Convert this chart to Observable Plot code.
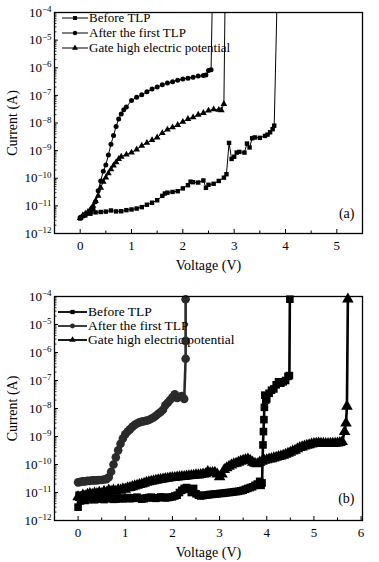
<!DOCTYPE html>
<html><head><meta charset="utf-8">
<script src="https://cdn.jsdelivr.net/npm/d3@7"></script>
<script src="https://cdn.jsdelivr.net/npm/@observablehq/plot@0.6"></script>
<style>
html,body{margin:0;padding:0;background:#fff;}
#wrap{position:relative;width:379px;height:562px;font-family:"Liberation Serif","Times New Roman",serif;color:#000;}
.panel{position:relative;width:379px;height:281px;}
.panel > svg{display:block;}
.legend{position:absolute;white-space:nowrap;}
.legend .row{display:flex;align-items:center;}
.legend svg{display:block;margin-right:1px;}
</style>
</head><body>
<div id="wrap"><div class="panel" id="pa"></div><div class="panel" id="pb"></div></div>
<script>
// ---------- data (voltage V, current A) ----------
const seriesNames = ["Before TLP", "After the first TLP", "Gate high electric potential"];
const panelTags = ["(a)", "(b)"];
const xLabel = "Voltage (V)";
const yLabel = "Current (A)";
const yDecades = [1e-12, 1e-11, 1e-10, 1e-9, 1e-8, 1e-7, 1e-6, 1e-5, 1e-4];
const xTicksA = [0, 1, 2, 3, 4, 5];
const xTicksB = [0, 1, 2, 3, 4, 5, 6];

const aBefore = [[0,3.5e-12],[0.1,4.5e-12],[0.2,5.2e-12],[0.3,5.8e-12],[0.4,6.0e-12],[0.5,6.2e-12],[0.6,6.8e-12],[0.7,6.3e-12],[0.8,6.4e-12],[0.9,7.0e-12],[1.0,7.4e-12],[1.1,8.0e-12],[1.2,9.0e-12],[1.3,1.1e-11],[1.4,1.3e-11],[1.5,1.6e-11],[1.6,2.3e-11],[1.65,2.8e-11],[1.7,3.0e-11],[1.8,3.2e-11],[1.9,3.4e-11],[2.0,4.3e-11],[2.1,5.6e-11],[2.15,7.5e-11],[2.2,7.2e-11],[2.3,7.0e-11],[2.4,8.3e-11],[2.45,4.5e-11],[2.5,5.8e-11],[2.6,6.3e-11],[2.7,8.0e-11],[2.8,1.05e-10],[2.85,1.4e-10],[2.9,1.9e-9],[2.95,5.0e-10],[3.0,6.0e-10],[3.05,8.5e-10],[3.1,9.0e-10],[3.2,8.5e-10],[3.25,1.8e-9],[3.3,1.3e-9],[3.35,2.8e-9],[3.4,3.0e-9],[3.5,2.9e-9],[3.6,3.4e-9],[3.65,3.8e-9],[3.7,4.6e-9],[3.75,6.0e-9],[3.78,8.0e-9],[3.83,1e-4]];
const aAfter = [[0,3.8e-12],[0.05,4.2e-12],[0.1,5.0e-12],[0.15,5.5e-12],[0.2,6.0e-12],[0.25,7.5e-12],[0.3,1.4e-11],[0.35,3.5e-11],[0.4,8.0e-11],[0.45,1.8e-10],[0.5,3.0e-10],[0.55,7.0e-10],[0.6,1.7e-9],[0.65,3.5e-9],[0.7,7.5e-9],[0.75,1.4e-8],[0.8,2.1e-8],[0.85,3.0e-8],[0.9,3.8e-8],[1.0,6.5e-8],[1.1,8.5e-8],[1.2,1.05e-7],[1.3,1.35e-7],[1.4,1.7e-7],[1.5,2.0e-7],[1.6,2.4e-7],[1.7,2.8e-7],[1.8,3.1e-7],[1.9,3.5e-7],[2.0,3.9e-7],[2.1,4.2e-7],[2.2,4.5e-7],[2.3,5.0e-7],[2.4,5.2e-7],[2.45,5.5e-7],[2.5,8.0e-7],[2.55,8.5e-7],[2.57,1e-4]];
const aGate = [[0,3.6e-12],[0.05,4.5e-12],[0.1,5.2e-12],[0.15,6.0e-12],[0.2,7.5e-12],[0.25,1.0e-11],[0.3,1.5e-11],[0.35,2.3e-11],[0.4,4.5e-11],[0.45,7.5e-11],[0.5,1.05e-10],[0.55,1.5e-10],[0.6,2.1e-10],[0.65,2.9e-10],[0.7,3.8e-10],[0.75,5.0e-10],[0.8,6.0e-10],[0.9,7.2e-10],[1.0,8.5e-10],[1.1,1.1e-9],[1.2,1.5e-9],[1.3,1.9e-9],[1.4,2.4e-9],[1.5,3.0e-9],[1.6,4.3e-9],[1.7,5.8e-9],[1.8,7.0e-9],[1.9,8.5e-9],[2.0,1.1e-8],[2.1,1.4e-8],[2.2,1.6e-8],[2.3,2.0e-8],[2.4,2.3e-8],[2.5,2.8e-8],[2.6,3.1e-8],[2.7,3.0e-8],[2.75,2.9e-8],[2.8,4.9e-8],[2.82,1e-4]];

const bBefore = [[0,3e-12],[0.02,8e-12],[0.05,5e-12],[0.1,6e-12],[0.15,5.2e-12],[0.2,5.5e-12],[0.25,6.2e-12],[0.3,6e-12],[0.35,5.5e-12],[0.4,5.8e-12],[0.45,6.3e-12],[0.5,6e-12],[0.55,5.6e-12],[0.6,6.2e-12],[0.65,6.5e-12],[0.7,6e-12],[0.75,5.7e-12],[0.8,5.8e-12],[0.85,6.3e-12],[0.9,6.2e-12],[0.95,5.9e-12],[1.0,6.3e-12],[1.05,6.6e-12],[1.1,6e-12],[1.15,6.2e-12],[1.2,6.5e-12],[1.25,6.8e-12],[1.3,6.2e-12],[1.35,5.8e-12],[1.4,6e-12],[1.45,6.4e-12],[1.5,6.6e-12],[1.55,6.8e-12],[1.6,6.4e-12],[1.65,6.2e-12],[1.7,6.5e-12],[1.75,6.9e-12],[1.8,6.8e-12],[1.85,6.4e-12],[1.9,6.6e-12],[1.95,6.8e-12],[2.0,7e-12],[2.05,7.5e-12],[2.1,8e-12],[2.15,1.0e-11],[2.2,1.2e-11],[2.25,1.4e-11],[2.3,1.5e-11],[2.35,1.3e-11],[2.4,1.0e-11],[2.45,1.4e-11],[2.5,9e-12],[2.55,8e-12],[2.6,7.5e-12],[2.65,7.8e-12],[2.7,8e-12],[2.75,8.2e-12],[2.8,8.5e-12],[2.85,8.6e-12],[2.9,8.8e-12],[2.95,9e-12],[3.0,9.2e-12],[3.05,9.3e-12],[3.1,9.5e-12],[3.15,9.8e-12],[3.2,1.0e-11],[3.25,1.02e-11],[3.3,1.05e-11],[3.35,1.08e-11],[3.4,1.1e-11],[3.45,1.15e-11],[3.5,1.2e-11],[3.55,1.3e-11],[3.6,1.4e-11],[3.65,1.5e-11],[3.7,1.6e-11],[3.75,1.8e-11],[3.8,2.0e-11],[3.85,2.5e-11],[3.88,1.8e-11],[3.9,2.2e-11],[3.92,5e-10],[3.93,1.5e-9],[3.94,4e-9],[3.95,1.1e-8],[3.96,3e-8],[3.98,2e-8],[4.0,2.2e-8],[4.05,3.5e-8],[4.1,4.5e-8],[4.15,5e-8],[4.2,7e-8],[4.25,9e-8],[4.3,8e-8],[4.35,9e-8],[4.4,1e-7],[4.45,1.4e-7],[4.48,1.5e-7],[4.49,8e-5]];
const bAfter = [[0,2.3e-11],[0.05,2.4e-11],[0.1,2.5e-11],[0.15,2.5e-11],[0.2,2.6e-11],[0.25,2.6e-11],[0.3,2.7e-11],[0.35,2.7e-11],[0.4,2.7e-11],[0.45,2.8e-11],[0.5,2.8e-11],[0.55,2.9e-11],[0.6,3.0e-11],[0.65,3.5e-11],[0.7,5.5e-11],[0.75,1.0e-10],[0.8,1.8e-10],[0.85,3.2e-10],[0.9,5.5e-10],[0.95,8.5e-10],[1.0,1.2e-9],[1.05,1.5e-9],[1.1,1.8e-9],[1.15,2.2e-9],[1.2,2.6e-9],[1.25,2.9e-9],[1.3,3.2e-9],[1.35,3.4e-9],[1.4,3.5e-9],[1.45,3.7e-9],[1.5,3.9e-9],[1.55,4.3e-9],[1.6,4.8e-9],[1.65,5.5e-9],[1.7,6.5e-9],[1.75,7.5e-9],[1.8,9e-9],[1.85,1.3e-8],[1.9,1.6e-8],[1.95,2e-8],[2.0,2.5e-8],[2.05,3.2e-8],[2.1,2.4e-8],[2.15,2.6e-8],[2.2,2.8e-8],[2.25,2.2e-8],[2.28,6e-7],[2.28,2.6e-6],[2.28,8e-5]];
const bGate = [[0,7e-12],[0.05,6.5e-12],[0.1,8e-12],[0.15,7.5e-12],[0.2,8.5e-12],[0.25,9e-12],[0.3,8.5e-12],[0.35,9.5e-12],[0.4,9e-12],[0.45,1.0e-11],[0.5,9e-12],[0.55,1.1e-11],[0.6,1.0e-11],[0.65,1.2e-11],[0.7,1.1e-11],[0.75,1.2e-11],[0.8,1.1e-11],[0.85,1.25e-11],[0.9,1.2e-11],[0.95,1.35e-11],[1.0,1.3e-11],[1.05,1.45e-11],[1.1,1.5e-11],[1.15,1.6e-11],[1.2,1.7e-11],[1.25,1.8e-11],[1.3,1.9e-11],[1.35,2.0e-11],[1.4,2.1e-11],[1.45,2.3e-11],[1.5,2.4e-11],[1.55,2.5e-11],[1.6,2.6e-11],[1.65,2.7e-11],[1.7,2.8e-11],[1.75,2.9e-11],[1.8,3.0e-11],[1.85,3.1e-11],[1.9,3.2e-11],[1.95,3.3e-11],[2.0,3.4e-11],[2.05,3.4e-11],[2.1,3.5e-11],[2.15,3.6e-11],[2.2,3.7e-11],[2.25,3.7e-11],[2.3,3.8e-11],[2.35,3.9e-11],[2.4,4.0e-11],[2.45,4.1e-11],[2.5,4.2e-11],[2.55,4.2e-11],[2.6,4.3e-11],[2.65,4.5e-11],[2.7,4.6e-11],[2.75,5.5e-11],[2.8,5.0e-11],[2.85,5.1e-11],[2.9,5.2e-11],[2.95,4.5e-11],[3.0,3.6e-11],[3.05,4.5e-11],[3.1,6.5e-11],[3.15,7.5e-11],[3.2,8.5e-11],[3.25,9.5e-11],[3.3,1.05e-10],[3.35,1.1e-10],[3.4,1.2e-10],[3.45,1.3e-10],[3.5,1.4e-10],[3.55,1.5e-10],[3.6,1.55e-10],[3.65,1.4e-10],[3.7,1.2e-10],[3.75,1.1e-10],[3.8,1.05e-10],[3.85,1.2e-10],[3.9,1.3e-10],[3.95,1.4e-10],[4.0,1.45e-10],[4.05,1.55e-10],[4.1,1.6e-10],[4.15,1.7e-10],[4.2,1.8e-10],[4.25,1.9e-10],[4.3,2.0e-10],[4.35,2.1e-10],[4.4,2.3e-10],[4.45,2.5e-10],[4.5,2.7e-10],[4.55,3.0e-10],[4.6,3.2e-10],[4.65,3.6e-10],[4.7,4.0e-10],[4.75,4.2e-10],[4.8,4.5e-10],[4.85,4.8e-10],[4.9,5.0e-10],[4.95,5.3e-10],[5.0,5.5e-10],[5.05,5.7e-10],[5.1,5.8e-10],[5.15,5.7e-10],[5.2,5.6e-10],[5.25,5.5e-10],[5.3,5.5e-10],[5.35,5.6e-10],[5.4,5.6e-10],[5.45,5.7e-10],[5.5,5.8e-10],[5.55,6.0e-10],[5.6,6.5e-10],[5.65,1.5e-9],[5.68,3e-9],[5.7,1.2e-8],[5.72,8e-5]];

// ---------- drawing ----------
const W = 379, H = 281, ML = 54, MR = 17;
const yMinor = yDecades.slice(0, -1).flatMap(d => d3.range(2, 10).map(m => m * d));

function drawPanel(el, {series, xDomain, xTicks, marginTop, marginBottom, r, lw, tag, tagDy, legend}) {
  const fw = W - ML - MR, fh = H - marginTop - marginBottom;
  const xMinor = d3.range(xTicks[0] + 0.5, xDomain[1], 1);
  const marks = [
    Plot.tickY(yDecades, {y: d => d, insetRight: fw - 4, stroke: "black", strokeWidth: 1}),
    Plot.tickY(yMinor, {y: d => d, insetRight: fw - 2.5, stroke: "black", strokeWidth: 0.8}),
    Plot.tickX(xTicks, {x: d => d, insetTop: fh - 4, stroke: "black", strokeWidth: 1}),
    Plot.tickX(xMinor, {x: d => d, insetTop: fh - 2.5, stroke: "black", strokeWidth: 1}),
    Plot.axisY({ticks: yDecades, tickSize: 0, tickPadding: 3, fontSize: 13,
      tickFormat: d => String(Math.round(Math.log10(d))),
      label: yLabel, labelAnchor: "center", labelOffset: 47, labelArrow: "none"}),
    Plot.axisX({ticks: xTicks, tickSize: 0, tickPadding: 7, fontSize: 13, tickFormat: d => String(d),
      label: xLabel, labelAnchor: "center", labelOffset: 36, labelArrow: "none"})
  ];
  for (const s of series) {
    marks.push(Plot.line(s.data, {x: d => d[0], y: d => d[1], stroke: s.color, strokeWidth: lw}));
  }
  for (const s of series) {
    marks.push(Plot.dot(s.data, {x: d => d[0], y: d => d[1], filter: d => d[1] < 1e-4,
      symbol: s.symbol, r, fill: s.color, stroke: "none"}));
  }
  marks.push(Plot.text([tag], {text: d => d, frameAnchor: "bottom-right", dx: -8, dy: tagDy,
    textAnchor: "end", fontSize: 14}));
  marks.push(Plot.frame({stroke: "black", strokeWidth: 1.3}));
  const svg = Plot.plot({
    width: W, height: H, marginTop, marginBottom, marginLeft: ML, marginRight: MR,
    x: {domain: xDomain},
    y: {type: "log", domain: [1e-12, 1e-4]},
    style: {fontFamily: '"Liberation Serif","Times New Roman",serif', fontSize: "13px", color: "black", background: "white", overflow: "visible"},
    marks
  });
  // superscript exponents on y tick labels
  svg.querySelectorAll('g[aria-label="y-axis tick label"] text').forEach(t => {
    const e = t.textContent;
    t.textContent = "";
    const base = document.createElementNS("http://www.w3.org/2000/svg", "tspan");
    base.textContent = "10";
    const sup = document.createElementNS("http://www.w3.org/2000/svg", "tspan");
    sup.setAttribute("dy", "-0.5em");
    sup.setAttribute("font-size", "9px");
    sup.textContent = e.replace("-", "\u2212");
    t.appendChild(base); t.appendChild(sup);
  });
  svg.querySelectorAll('g[aria-label="y-axis label"] text, g[aria-label="x-axis label"] text').forEach(t => t.setAttribute("font-size", "14px"));
  el.appendChild(svg);

  // legend
  const lg = document.createElement("div");
  lg.className = "legend";
  lg.style.left = legend.left + "px";
  lg.style.top = legend.top + "px";
  lg.style.fontSize = legend.fontSize + "px";
  series.forEach((s, i) => {
    const row = document.createElement("div");
    row.className = "row";
    row.style.height = legend.rowH + "px";
    const sym = d3.create("svg").attr("width", legend.lineW).attr("height", 10);
    sym.append("line").attr("x1", 0).attr("x2", legend.lineW).attr("y1", 5).attr("y2", 5)
      .attr("stroke", s.color).attr("stroke-width", legend.lw);
    const symType = {square: d3.symbolSquare, circle: d3.symbolCircle, triangle: d3.symbolTriangle}[s.symbol];
    sym.append("path").attr("transform", `translate(${legend.lineW / 2},5)`)
      .attr("d", d3.symbol(symType, Math.PI * legend.r * legend.r)()).attr("fill", s.color);
    row.appendChild(sym.node());
    const label = document.createElement("span");
    label.textContent = seriesNames[i];
    row.appendChild(label);
    lg.appendChild(row);
  });
  el.appendChild(lg);
}

drawPanel(document.getElementById("pa"), {
  series: [
    {data: aBefore, symbol: "square", color: "#000"},
    {data: aAfter, symbol: "circle", color: "#000"},
    {data: aGate, symbol: "triangle", color: "#000"}
  ],
  xDomain: [-0.5, 5.5], xTicks: xTicksA, marginTop: 12, marginBottom: 48, r: 2.5, lw: 1,
  tag: panelTags[0], tagDy: -16,
  legend: {left: 62, top: 11, rowH: 14.7, lineW: 26, r: 2.2, lw: 1, fontSize: 13}
});
drawPanel(document.getElementById("pb"), {
  series: [
    {data: bBefore, symbol: "square", color: "#000"},
    {data: bAfter, symbol: "circle", color: "#2a2a2a"},
    {data: bGate, symbol: "triangle", color: "#000"}
  ],
  xDomain: [-0.5, 6.03], xTicks: xTicksB, marginTop: 15, marginBottom: 42, r: 4.3, lw: 2.6,
  tag: panelTags[1], tagDy: -18,
  legend: {left: 58, top: 23.5, rowH: 14.2, lineW: 29, r: 2.4, lw: 1.8, fontSize: 13.5}
});
</script>
</body></html>
